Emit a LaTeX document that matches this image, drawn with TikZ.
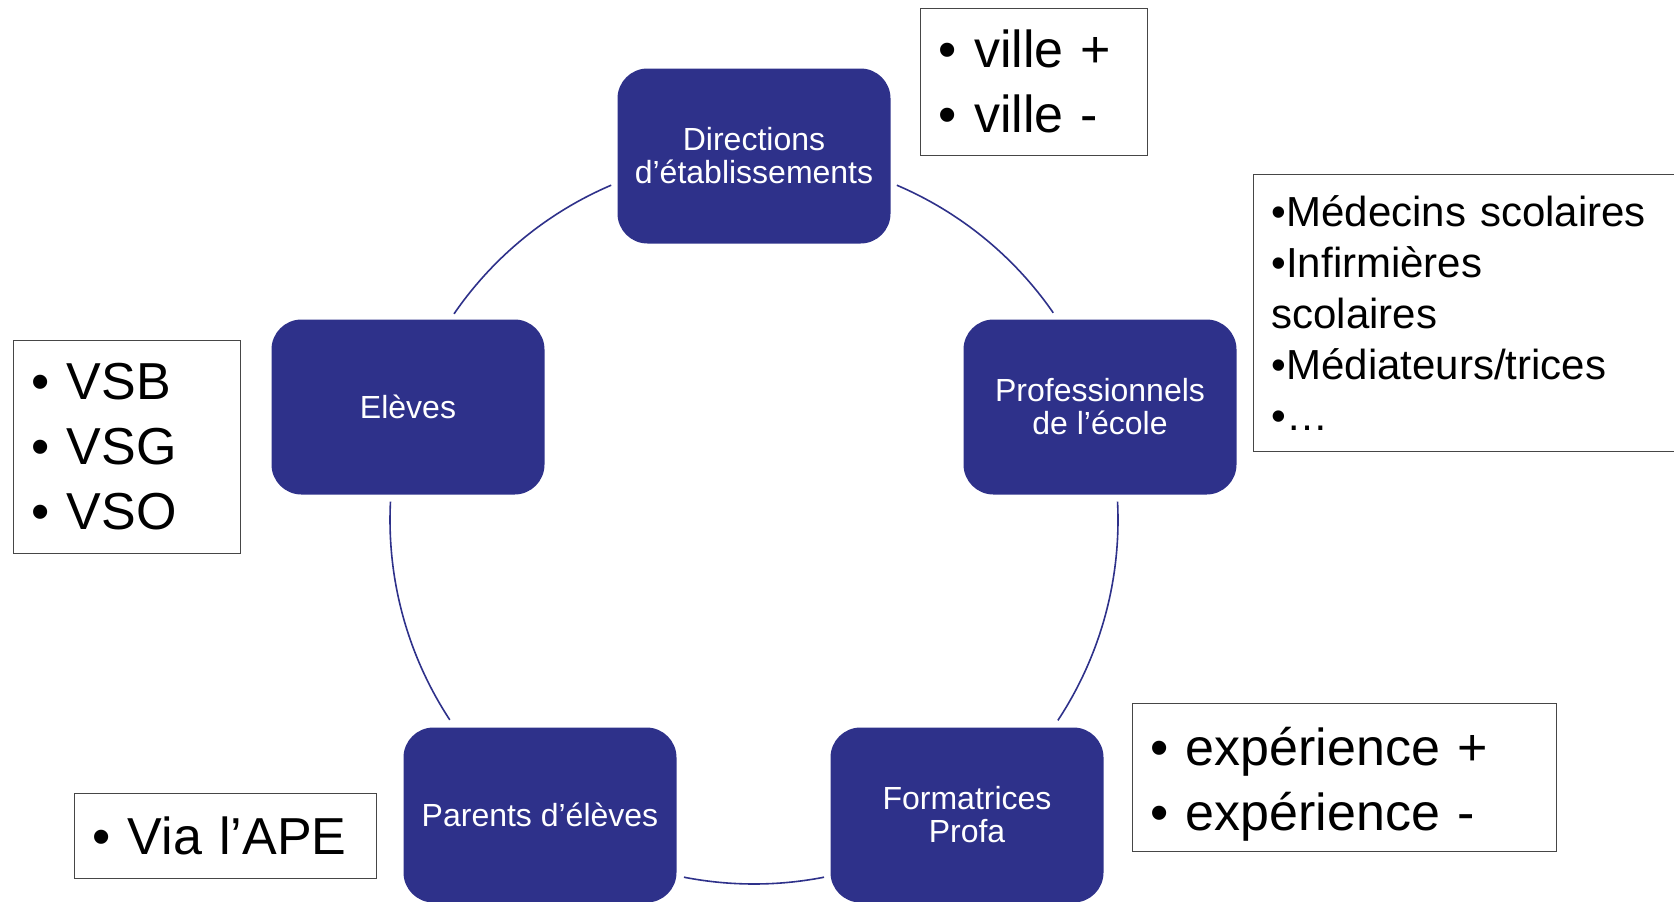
\documentclass[tikz,border=0pt]{standalone}
\usepackage{fontspec}
\setmainfont{Liberation Sans}
\setsansfont{Liberation Sans}
\usetikzlibrary{calc}
\definecolor{boxblue}{RGB}{46,49,138}
\definecolor{framegray}{RGB}{70,70,70}
\newcommand{\lowline}[1]{\raisebox{-10.5pt}[0pt][0pt]{#1}}
\begin{document}
\begin{tikzpicture}[x=0.5pt,y=0.5pt,
  hub/.style={draw=none, fill=boxblue, rounded corners=15pt, text=white,
    minimum width=136.5pt, minimum height=87.5pt, align=center,
    font=\fontsize{16}{16.5}\selectfont, inner sep=0pt},
  note/.style={draw=framegray, line width=0.6pt, fill=white, anchor=north west,
    align=left, inner xsep=9pt, inner ysep=0pt},
  big/.style={font=\fontsize{26}{32.5}\selectfont},
  conn/.style={draw=boxblue, line width=0.8pt},
]
\useasboundingbox (0,0) rectangle (1674,-901);
\clip (0,0) rectangle (1674,-901);

% circle centre
\coordinate (c) at (754,-520);

% connectors (arcs of the cycle)
\draw[conn] (c) ++(66.9:364) arc[start angle=66.9, end angle=34.7, radius=364];
\draw[conn] (c) ++(2.9:364) arc[start angle=2.9, end angle=-33.4, radius=364];
\draw[conn] (c) ++(-78.9:364) arc[start angle=-78.9, end angle=-101.1, radius=364];
\draw[conn] (c) ++(-146.7:364) arc[start angle=-146.7, end angle=-182.9, radius=364];
\draw[conn] (c) ++(145.5:364) arc[start angle=145.5, end angle=113.1, radius=364];

% hub boxes
\node[hub] (dir) at (754,-156) {Directions\\d’établissements};
\node[hub] (pro) at (1100,-407) {Professionnels\\de l’école};
\node[hub] (for) at (967,-815) {Formatrices\\Profa};
\node[hub] (par) at (540,-815) {Parents d’élèves};
\node[hub] (ele) at (408,-407) {Elèves};

% note boxes
\node[note, big, minimum width=113.5pt, minimum height=73.75pt, text width=95.5pt]
  (ville) at (920,-7.5) {• ville +\\• ville -};
\node[note, font=\fontsize{21}{25.5}\selectfont, minimum width=220pt, minimum height=138.5pt, text width=202pt]
  (med) at (1253,-174) {•Médecins scolaires\\•Infirmières\\scolaires\\•Médiateurs/trices\\•…};
\node[note, big, minimum width=113.5pt, minimum height=106.75pt, text width=95.5pt]
  (vs) at (12.8,-339.5) {• VSB\\• VSG\\• VSO};
\node[note, big, minimum width=151pt, minimum height=42.3pt, text width=133pt]
  (ape) at (73.7,-793) {• Via l’APE};
\node[note, big, minimum width=212pt, minimum height=74.25pt, text width=194pt]
  (exp) at (1131.6,-702.5) {\lowline{• expérience +}\\\lowline{• expérience -}};
\end{tikzpicture}
\end{document}
